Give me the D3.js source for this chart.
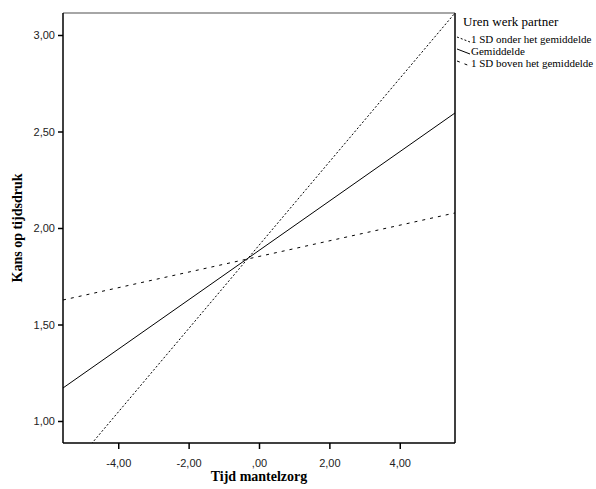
<!DOCTYPE html>
<html>
<head>
<meta charset="utf-8">
<script src="https://cdn.jsdelivr.net/npm/d3@7"></script>
<style>
body { margin: 0; background: #fff; }
</style>
</head>
<body>
<script>
// gegevens: lijnen als waarden bij de uiteinden van de x-as
var xEnds = [-5.57, 5.57];
var onder = [0.707, 3.114];   // 1 SD onder het gemiddelde
var gemiddelde = [1.171, 2.596];
var boven = [1.627, 2.078];   // 1 SD boven het gemiddelde
var xTicks = [-4, -2, 0, 2, 4];
var yTicks = [1, 1.5, 2, 2.5, 3];
var legendLabels = ["1 SD onder het gemiddelde", "Gemiddelde", "1 SD boven het gemiddelde"];
var dashes = ["2,2", null, "3,5"];

function draw() {
var width = 596, height = 489;
var pL = 63, pR = 455, pT = 13, pB = 443;

var svg = d3.select("body").append("svg")
    .attr("width", width)
    .attr("height", height);

var x = d3.scaleLinear().domain([-5.57, 5.57]).range([pL, pR]);
var y = d3.scaleLinear().domain([0.886, 3.114]).range([pB, pT]);

var fmt = function(d) {
    var s = d3.format(".2f")(Math.abs(d)).replace(".", ",");
    if (s.indexOf("0,") === 0) s = s.slice(1);
    return (d < 0 ? "-" : "") + s;
};

svg.append("clipPath").attr("id", "plot")
  .append("rect").attr("x", pL).attr("y", pT)
  .attr("width", pR - pL).attr("height", pB - pT);

// assen
var xAxis = svg.append("g")
    .attr("transform", "translate(0," + pB + ")")
    .call(d3.axisBottom(x).tickValues(xTicks).tickSize(6).tickSizeOuter(0).tickFormat(fmt));
var yAxis = svg.append("g")
    .attr("transform", "translate(" + pL + ",0)")
    .call(d3.axisLeft(y).tickValues(yTicks).tickSize(5).tickSizeOuter(0).tickFormat(fmt));
[xAxis, yAxis].forEach(function(a) {
    a.select(".domain").remove();
    a.selectAll("line").attr("stroke", "#000").attr("stroke-width", 1.5);
    a.selectAll("text").attr("font-family", "Liberation Sans, Arial, sans-serif")
        .attr("font-size", 11).attr("fill", "#222");
});
xAxis.selectAll("text").attr("dy", "1.4em");

// kader
svg.append("line").attr("x1", pL).attr("x2", pR).attr("y1", pT).attr("y2", pT)
    .attr("stroke", "#888").attr("stroke-width", 1.5);
svg.append("line").attr("x1", pL).attr("x2", pR).attr("y1", pB).attr("y2", pB)
    .attr("stroke", "#000").attr("stroke-width", 1.5);
svg.append("line").attr("x1", pL).attr("x2", pL).attr("y1", pT).attr("y2", pB)
    .attr("stroke", "#000").attr("stroke-width", 1.5);
svg.append("line").attr("x1", pR).attr("x2", pR).attr("y1", pT).attr("y2", pB)
    .attr("stroke", "#000").attr("stroke-width", 1.5);

// lijnen
var series = [onder, gemiddelde, boven];
var line = d3.line().x(function(d, i) { return x(xEnds[i]); }).y(function(d) { return y(d); });
svg.append("g").attr("clip-path", "url(#plot)")
  .selectAll("path").data(series).enter().append("path")
    .attr("d", line)
    .attr("fill", "none")
    .attr("stroke", "#000")
    .attr("stroke-width", 1)
    .attr("stroke-dasharray", function(d, i) { return dashes[i]; });

// legenda
svg.append("text").attr("x", 463).attr("y", 26)
    .attr("font-family", "Liberation Serif, Times New Roman, serif")
    .attr("font-size", 13).text("Uren werk partner");
var lg = svg.append("g").selectAll("g").data(legendLabels).enter().append("g")
    .attr("transform", function(d, i) { return "translate(0," + (41 + i * 12) + ")"; });
lg.append("line").attr("x1", 457).attr("x2", 470).attr("y1", -4).attr("y2", 1)
    .attr("stroke", "#000").attr("stroke-width", 1)
    .attr("stroke-dasharray", function(d, i) { return dashes[i]; });
lg.append("text").attr("x", 471).attr("y", 2)
    .attr("font-family", "Liberation Serif, Times New Roman, serif")
    .attr("font-size", 11).text(function(d) { return d; });

// astitels
svg.append("text").attr("x", (pL + pR) / 2).attr("y", 481)
    .attr("text-anchor", "middle")
    .attr("font-family", "Liberation Serif, Times New Roman, serif")
    .attr("font-weight", "bold").attr("font-size", 14).text("Tijd mantelzorg");
svg.append("text")
    .attr("transform", "translate(22," + (pT + pB) / 2 + ") rotate(-90)")
    .attr("text-anchor", "middle")
    .attr("font-family", "Liberation Serif, Times New Roman, serif")
    .attr("font-weight", "bold").attr("font-size", 14).text("Kans op tijdsdruk");
}
draw();
</script>
</body>
</html>
